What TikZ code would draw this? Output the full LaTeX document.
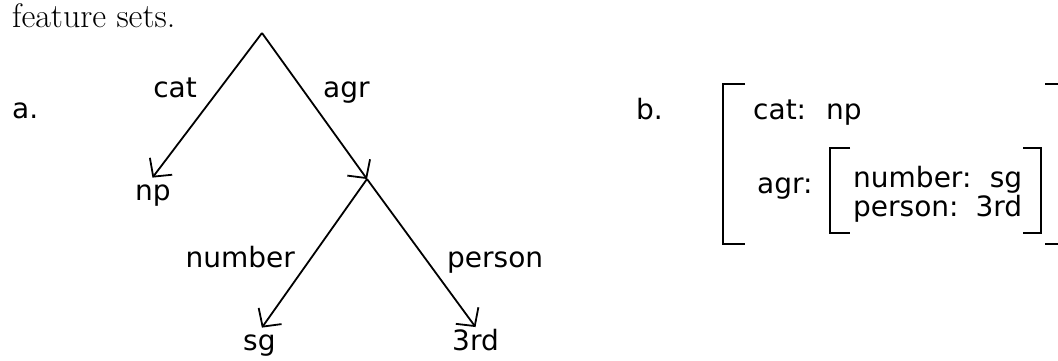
\documentclass[tikz,border=0pt]{standalone}
\usepackage{fontspec}
\newfontfamily\dv{DejaVu Sans}
\usetikzlibrary{arrows.meta}
\begin{document}
\begin{tikzpicture}[x=1pt,y=-1pt,
  lbl/.style={font=\dv\fontsize{28}{25}\selectfont, inner sep=0pt},
  edge/.style={line width=1.8pt, -{Straight Barb[length=13pt,width=28pt,line width=1.8pt]}},
  brk/.style={line width=1.8pt}]
\useasboundingbox (0,0) rectangle (1058,360);
% caption fragment
\node[font=\fontsize{34}{36}\selectfont, inner sep=0pt, anchor=base west] (cap) at (12,27) {feature sets.};
% part a
\node[lbl, anchor=base west] (la) at (12,118) {a.};
\coordinate (A) at (262,33);
\coordinate (M) at (367,179);
\node[lbl, anchor=base west] (np) at (135,200) {np};
\node[lbl, anchor=base west] (sg) at (243,350) {sg};
\node[lbl, anchor=base west] (trd) at (452,350) {3rd};
\draw[edge] (A) -- ([xshift=-0.5pt,yshift=6.5pt]np.north);
\draw[edge] (A) -- (M);
\draw[edge] (M) -- ([xshift=2.5pt,yshift=6.5pt]sg.north);
\draw[edge] (M) -- ([yshift=1.5pt]trd.north);
\node[lbl, anchor=base east] (lcat) at (197,97) {cat};
\node[lbl, anchor=base west] (lagr) at (323,97) {agr};
\node[lbl, anchor=base east] (lnum) at (295,267) {number};
\node[lbl, anchor=base west] (lper) at (447,267) {person};
% part b
\node[lbl, anchor=base west] (lb) at (636,119) {b.};
\node[lbl, anchor=base west] (fcat) at (753,119) {cat:\hspace{20pt}np};
\node[lbl, anchor=base west] (fagr) at (757,193) {agr:};
\node[lbl, anchor=north west, text width=169pt, align=left] (finner) at (853,166.5)
  {number:\hfill sg\\person:\hfill 3rd};
% outer brackets
\draw[brk] (745,84) -- (723,84) -- (723,244) -- (745,244);
\draw[brk] (1045,84) -- (1064,84) -- (1064,244) -- (1045,244);
% inner brackets
\draw[brk] (850,148) -- (830,148) -- (830,233) -- (850,233);
\draw[brk] (1023,148) -- (1041,148) -- (1041,233) -- (1023,233);
\end{tikzpicture}
\end{document}
